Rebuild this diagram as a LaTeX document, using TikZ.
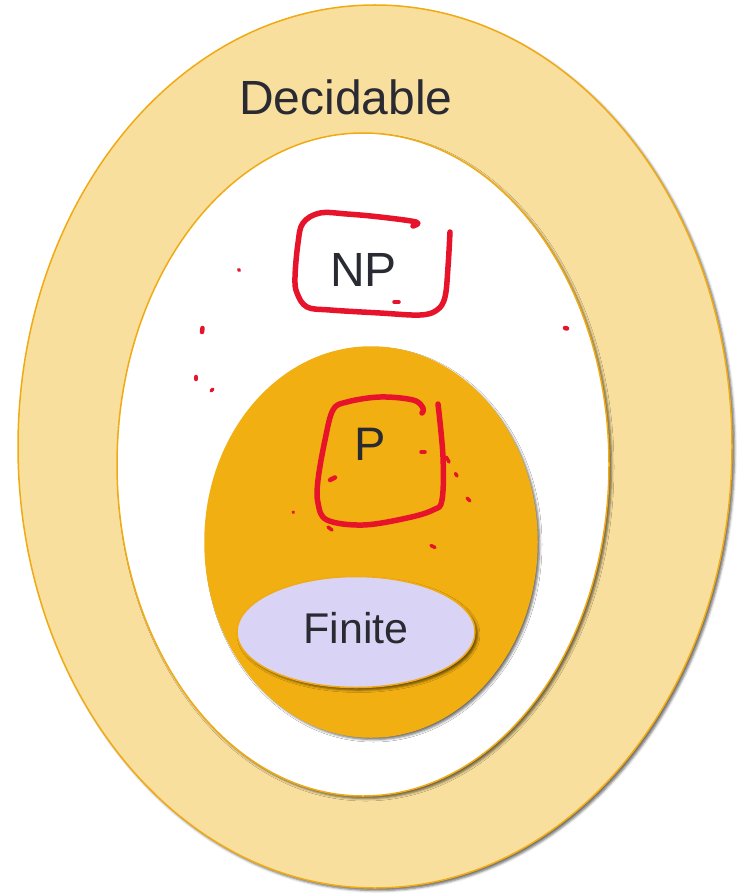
\documentclass[tikz,border=0pt]{standalone}
\usepackage{fontspec}
\setmainfont{Liberation Sans}
\usetikzlibrary{shapes.geometric,shadows.blur}
\definecolor{lightor}{HTML}{F9DF9D}
\definecolor{edgeor}{HTML}{EFAA14}
\definecolor{midor}{HTML}{F2AF12}
\definecolor{lav}{HTML}{D9D4F5}
\definecolor{ink}{HTML}{2A2A33}
\definecolor{penred}{HTML}{E6132B}
\begin{document}
\begin{tikzpicture}[x=1pt,y=-1pt,
  blob/.style={ellipse, inner sep=0pt, outer sep=0pt, draw=edgeor, line width=1.5pt,
    blur shadow={shadow xshift=2.5pt, shadow yshift=-2.5pt, shadow blur radius=2.5pt, shadow opacity=60}},
  lbl/.style={inner sep=0pt, text=ink},
  pen/.style={draw=penred, line width=5.5pt, line cap=round, line join=round},
  dot/.style={draw=penred, line width=4.5pt, line cap=round},
  smalldot/.style={draw=penred, line width=3.5pt, line cap=round}]
\useasboundingbox (0,0) rectangle (740,893);
% nested sets
\node[blob, fill=lightor, minimum width=714pt, minimum height=883pt] (dec) at (375,446.5) {};
\node[blob, fill=white, minimum width=492pt, minimum height=663pt] (npset) at (363,464.5) {};
\node[blob, fill=midor, draw=midor, minimum width=332pt, minimum height=390pt] (pset) at (371,542) {};
\node[blob, fill=lav, minimum width=238pt, minimum height=111pt] (fin) at (356,632) {};
% labels
\node[lbl, font=\fontsize{48}{50}\selectfont] (tdec) at (346,97) {Decidable};
\node[lbl, font=\fontsize{48}{50}\selectfont] (tnp) at (363.5,270) {NP};
\node[lbl, font=\fontsize{47}{50}\selectfont] (tp) at (370,444) {P};
\node[lbl, font=\fontsize{43}{46}\selectfont] (tfin) at (356,628) {Finite};
% red hand-drawn boxes
\draw[pen] plot[smooth, tension=0.6] coordinates {(413,226) (416,222) (380,217) (347,214) (320,213) (303,223) (298,243) (295,277) (297,293) (307,307) (330,310) (380,313) (420,315) (437,310) (445,297) (448,267) (450,232)};
\draw[pen] plot[smooth, tension=0.6] coordinates {(422,413) (423,408) (413,400) (380,397) (347,402) (333,410) (325,440) (318,480) (318,503) (327,520) (363,525) (407,518) (433,510) (442,500) (443,457) (438,404)};
% red specks
\draw[smalldot] (238.5,269.5) -- (239.5,270.5);
\draw[dot] (202.5,328) -- (202,332);
\draw[dot] (196,377) -- (196,379);
\draw[smalldot] (211,391) -- (213,389);
\draw[smalldot] (394,302) -- (399,302);
\draw[dot] (565,328) -- (567,328.5);
\draw[smalldot] (421,452) -- (425,452);
\draw[dot] (330,480) -- (335,477.5);
\draw[smalldot] (293,512) -- (293.5,512.5);
\draw[smalldot] (328,527) -- (332,530);
\draw[smalldot] (446,457) -- (448,460) -- (449,462);
\draw[smalldot] (455.5,473.5) -- (457,476);
\draw[smalldot] (467,498) -- (470,501);
\draw[smalldot] (431,545.5) -- (435,547.5);
\end{tikzpicture}
\end{document}
